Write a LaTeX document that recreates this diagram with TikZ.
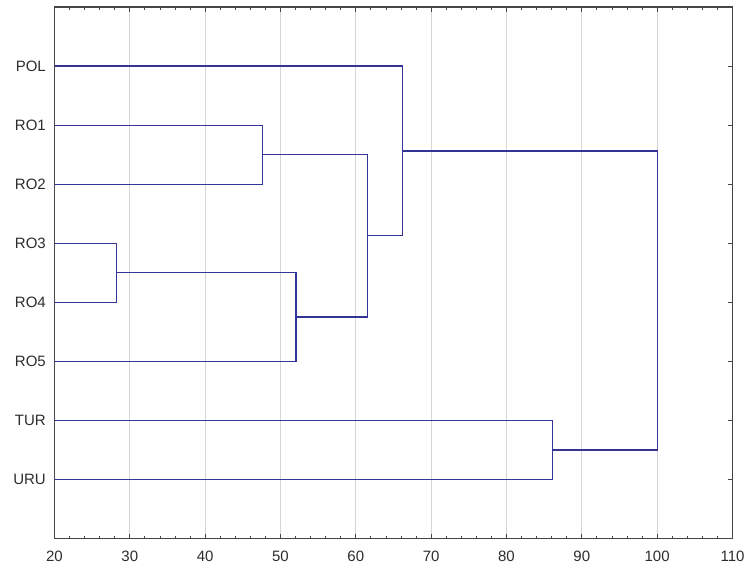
\documentclass[tikz,border=0pt]{standalone}
\usepackage{fontspec}
\setmainfont{Liberation Sans}
\definecolor{dendro}{RGB}{52,52,150}
\definecolor{gridc}{RGB}{212,212,218}
\definecolor{framec}{RGB}{70,70,70}
\definecolor{textc}{RGB}{45,45,45}
\begin{document}
\begin{tikzpicture}[
  lbl/.style={font=\fontsize{15}{18}\selectfont, text=textc, inner sep=0pt},
  link/.style={draw=dendro, line width=1.2pt},
  gridline/.style={draw=gridc, line width=0.9pt},
  frameline/.style={draw=framec, line width=1.5pt},
  tickline/.style={draw=framec, line width=0.9pt}
]
\useasboundingbox (0,0) rectangle (750pt,-570pt);
\fill[white] (0,0) rectangle (750pt,-570pt);
\begin{scope}[x=7.5333pt, y=-59.06pt, shift={(-96.167pt,-7pt)}]
  % grid
  \foreach \v in {30,40,...,100} \draw[gridline] (\v,0) -- (\v,9);
  % leaves
  \coordinate (pol) at (20,1);
  \coordinate (ro1) at (20,2);
  \coordinate (ro2) at (20,3);
  \coordinate (ro3) at (20,4);
  \coordinate (ro4) at (20,5);
  \coordinate (ro5) at (20,6);
  \coordinate (tur) at (20,7);
  \coordinate (uru) at (20,8);
  % merge points
  \coordinate (m34) at (28.2,4.5);
  \coordinate (m12) at (47.6,2.5);
  \coordinate (m345) at (52.06,5.25);
  \coordinate (m15) at (61.6,3.875);
  \coordinate (mp) at (66.2,2.4375);
  \coordinate (mtu) at (86.1,7.5);
  \coordinate (mall) at (100,4.96875);
  % dendrogram
  \draw[link] (ro3) -| (m34) |- (ro4);
  \draw[link] (ro1) -| (m12) |- (ro2);
  \draw[link] (m34) -| (m345) |- (ro5);
  \draw[link] (m12) -| (m15) |- (m345);
  \draw[link] (pol) -| (mp) |- (m15);
  \draw[link] (tur) -| (mtu) |- (uru);
  \draw[link] (mp) -| (mall) |- (mtu);
  % ticks
  \foreach \v in {22,24,...,108} {
    \draw[tickline] (\v,0) -- ++(0,-2.5pt);
    \draw[tickline] (\v,9) -- ++(0,2.5pt);
  }
  \foreach \v in {30,40,...,100} {
    \draw[tickline] (\v,0) -- ++(0,-4.5pt);
    \draw[tickline] (\v,9) -- ++(0,4.5pt);
  }
  \foreach \r in {1,...,8} \draw[tickline] (110,\r) -- ++(-4.5pt,0);
  % frame
  \draw[frameline] (20,0) rectangle (110,9);
  % row labels
  \node[lbl, anchor=east, xshift=-8.5pt] (lpol) at (pol) {POL};
  \node[lbl, anchor=east, xshift=-8.5pt] (lro1) at (ro1) {RO1};
  \node[lbl, anchor=east, xshift=-8.5pt] (lro2) at (ro2) {RO2};
  \node[lbl, anchor=east, xshift=-8.5pt] (lro3) at (ro3) {RO3};
  \node[lbl, anchor=east, xshift=-8.5pt] (lro4) at (ro4) {RO4};
  \node[lbl, anchor=east, xshift=-8.5pt] (lro5) at (ro5) {RO5};
  \node[lbl, anchor=east, xshift=-8.5pt] (ltur) at (tur) {TUR};
  \node[lbl, anchor=east, xshift=-8.5pt] (luru) at (uru) {URU};
  % axis labels
  \foreach \v in {20,30,...,110}
    \node[lbl, yshift=-18pt] (ax\v) at (\v,9) {\v};
\end{scope}
\end{tikzpicture}
\end{document}
